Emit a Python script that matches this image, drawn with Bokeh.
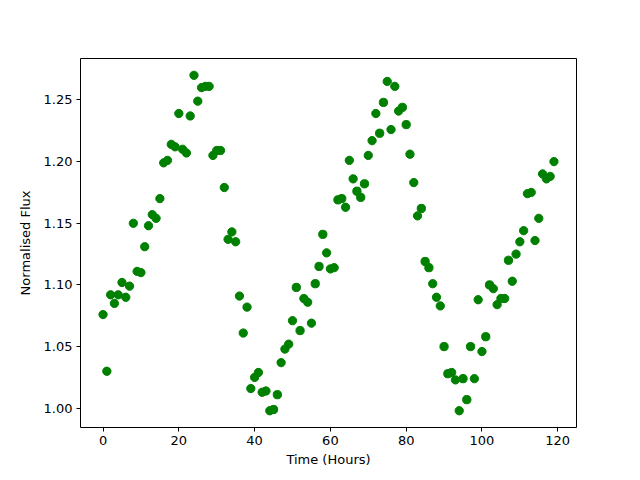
from bokeh.plotting import figure
from bokeh.models import Range1d, FixedTicker, NumeralTickFormatter, ColumnDataSource
from bokeh.embed import file_html
from bokeh.resources import INLINE

hours = list(range(120))
flux = [
    1.076, 1.030, 1.092, 1.085, 1.092, 1.102, 1.090, 1.099, 1.150, 1.111,
    1.110, 1.131, 1.148, 1.157, 1.154, 1.170, 1.199, 1.201, 1.214, 1.212,
    1.239, 1.210, 1.207, 1.237, 1.270, 1.249, 1.260, 1.261, 1.261, 1.205,
    1.209, 1.209, 1.179, 1.137, 1.143, 1.135, 1.091, 1.061, 1.082, 1.016,
    1.025, 1.029, 1.013, 1.014, 0.998, 0.999, 1.011, 1.037, 1.048, 1.052,
    1.071, 1.098, 1.063, 1.089, 1.086, 1.069, 1.101, 1.115, 1.141, 1.126,
    1.113, 1.114, 1.169, 1.170, 1.163, 1.201, 1.186, 1.176, 1.171, 1.182,
    1.205, 1.217, 1.239, 1.223, 1.248, 1.265, 1.226, 1.261, 1.241, 1.244,
    1.230, 1.206, 1.183, 1.156, 1.162, 1.119, 1.114, 1.101, 1.090, 1.083,
    1.050, 1.028, 1.029, 1.023, 0.998, 1.024, 1.007, 1.050, 1.024, 1.088,
    1.046, 1.058, 1.100, 1.097, 1.084, 1.089, 1.089, 1.120, 1.103, 1.125,
    1.135, 1.144, 1.174, 1.175, 1.136, 1.154, 1.190, 1.186, 1.188, 1.200,
]
x_ticks = [0, 20, 40, 60, 80, 100, 120]
y_ticks = [1.00, 1.05, 1.10, 1.15, 1.20, 1.25]

src = ColumnDataSource(dict(x=hours, y=flux))

p = figure(width=632, height=472, output_backend="svg", toolbar_location=None,
           x_range=Range1d(-5.95, 124.95), y_range=Range1d(0.9844, 1.2836),
           min_border_left=80, min_border_right=56, min_border_top=58, min_border_bottom=45)
p.scatter("x", "y", source=src, size=8.3, color="#008000", line_color="#008000")

p.xgrid.visible = False
p.ygrid.visible = False
p.outline_line_color = "black"
p.outline_line_width = 1
p.outline_line_alpha = 1

for ax in (p.xaxis[0], p.yaxis[0]):
    ax.axis_line_color = None
    ax.major_tick_in = 0
    ax.major_tick_out = 4
    ax.minor_tick_line_color = None
    ax.major_label_text_font = "DejaVu Sans"
    ax.major_label_text_font_size = "13px"
    ax.major_label_text_color = "black"
    ax.axis_label_text_font = "DejaVu Sans"
    ax.axis_label_text_font_size = "13px"
    ax.axis_label_text_font_style = "normal"
    ax.axis_label_text_color = "black"

p.xaxis.ticker = FixedTicker(ticks=x_ticks)
p.yaxis.ticker = FixedTicker(ticks=y_ticks)
p.yaxis.formatter = NumeralTickFormatter(format="0.00")
p.xaxis.axis_label = "Time (Hours)"
p.yaxis.axis_label = "Normalised Flux"
p.xaxis.major_label_standoff = 4
p.yaxis.major_label_standoff = 4
p.xaxis.axis_label_standoff = 4
p.yaxis.axis_label_standoff = 8

open("out.html", "w").write(file_html(p, INLINE))
